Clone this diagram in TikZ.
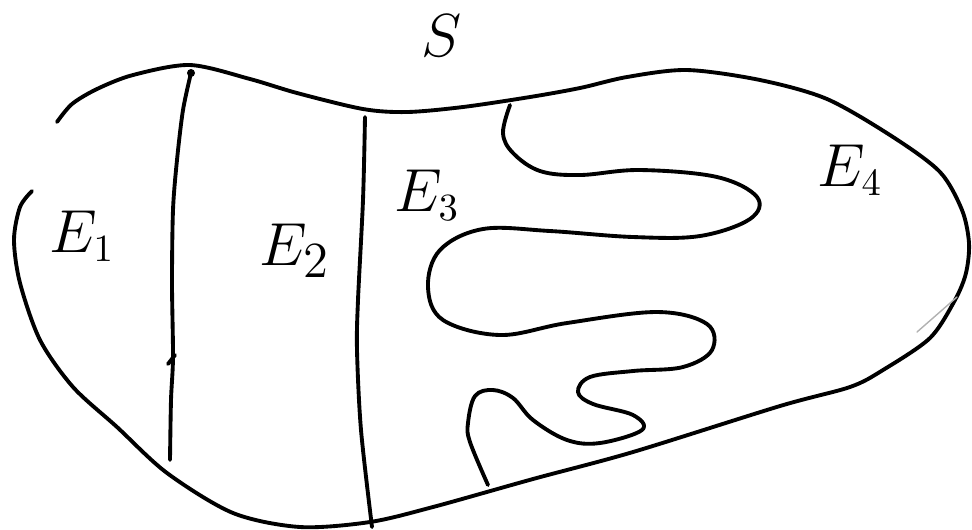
\documentclass[tikz,border=0pt]{standalone}
\usepackage{amsmath,amssymb}
\usepackage{tikz}

\begin{document}
\begin{tikzpicture}[x=0.01cm,y=-0.01cm,line cap=round,line join=round,
  curve/.style={line width=1.1pt,black},
  lab/.style={font=\fontsize{16}{18}\selectfont,inner sep=0pt}]
\useasboundingbox (0,0) rectangle (972,529);
% outline of S
\draw[curve] plot[smooth] coordinates {(57,122) (72,104) (97,89) (133,75) (190,65) (250,79) (297,93) (363,109) (407,112) (463,107) (530,97) (580,88) (627,77) (687,70) (760,80) (827,99) (893,137) (940,172) (962,210) (969,243) (966,273) (955,300) (930,338) (883,370) (850,387) (780,406) (633,452) (533,479) (433,507) (370,522) (300,527) (233,513) (167,473) (117,427) (73,387) (40,340) (20,283) (14,240) (20,207) (32,191)};
% first cut
\draw[curve] plot[smooth] coordinates {(191,73) (183,110) (177,160) (173,210) (172,283) (173,357) (171,400) (170,460)};
\fill (191,73) circle (4);
\draw[curve] (168,364) -- (175,355);
% second cut
\draw[curve] plot[smooth] coordinates {(365,117) (363,200) (358,300) (357,350) (361,430) (372,527)};
% wiggly boundary of E_4
\draw[curve] plot[smooth,tension=0.6] coordinates {(510,105) (503,133) (513,153) (540,171) (580,175) (640,170) (717,177) (757,197) (750,219) (700,236) (633,237) (550,231) (483,229) (440,250) (428,287) (443,320) (500,335) (567,323) (657,312) (707,324) (712,350) (683,367) (633,371) (590,377) (578,392) (593,404) (633,415) (642,430) (600,443) (567,440) (533,420) (513,398) (493,390) (475,396) (468,423) (470,442) (488,485)};
\draw[gray!60,thin] (917,332) -- (957,297);
% labels
\node[lab,font=\fontsize{19}{22}\selectfont] (S) at (442,36) {$S$};
\node[lab] (E1) at (82,236) {$E_1$};
\node[lab,font=\fontsize{19}{22}\selectfont] (E2) at (295,251) {$E_2$};
\node[lab] (E3) at (427,195) {$E_3$};
\node[lab] (E4) at (850,170) {$E_4$};
\end{tikzpicture}
\end{document}
